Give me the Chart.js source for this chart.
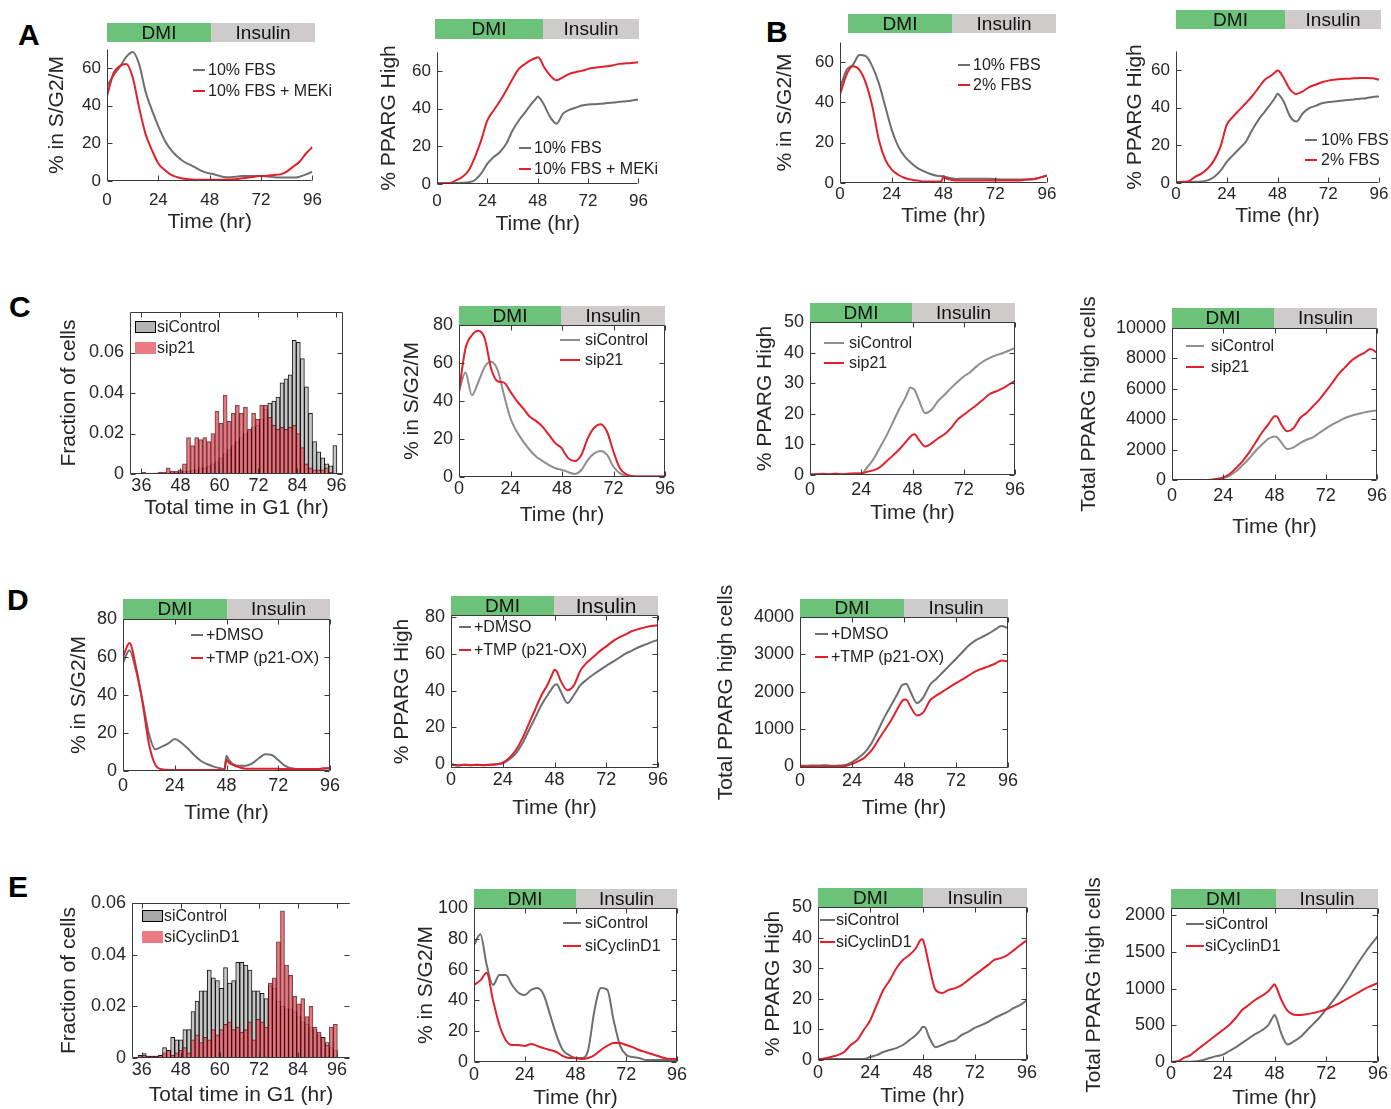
<!DOCTYPE html>
<html>
<head>
<meta charset="utf-8">
<title>Cell cycle exit and PPARG panels</title>
<script src="https://cdn.jsdelivr.net/npm/chart.js@4.4.1/dist/chart.umd.min.js"></script>
<style>
  html, body { margin: 0; padding: 0; background: #fff; }
  body { position: relative; width: 1391px; height: 1109px; overflow: hidden;
         font-family: "Liberation Sans", Arial, Helvetica, sans-serif; color: #222; }
  canvas { position: absolute; }
  .abs { position: absolute; white-space: nowrap; }
  .letter { font-weight: bold; font-size: 30px; line-height: 30px; color: #000; }
  .seg { display: flex; align-items: center; justify-content: center; font-size: 19px; color: #111; }
  .leg { font-size: 16px; line-height: 18px; color: #222; }
</style>
</head>
<body>
<div class="abs letter" style="left:18px;top:20px">A</div>
<div class="abs letter" style="left:766px;top:17px">B</div>
<div class="abs letter" style="left:9px;top:292px">C</div>
<div class="abs letter" style="left:7px;top:585px">D</div>
<div class="abs letter" style="left:8px;top:872px">E</div>
<script>
// Time points (hr) shared by every time-course panel
const TIME = [0,3,6,9,12,15,18,21,24,27,30,33,36,39,42,45,47,48,49,51,54,57,60,63,66,69,72,75,78,81,84,87,90,93,96];
const TIME_TICKS = [0,24,48,72,96];

// Histogram bins: total time in G1 (hr)
const BIN_CENTERS = [35.5,36.75,38,39.25,40.5,41.75,43,44.25,45.5,46.75,48,49.25,50.5,51.75,53,54.25,55.5,56.75,58,59.25,60.5,61.75,63,64.25,65.5,66.75,68,69.25,70.5,71.75,73,74.25,75.5,76.75,78,79.25,80.5,81.75,83,84.25,85.5,86.75,88,89.25,90.5,91.75,93,94.25,95.5];
const G1_TICKS = [36,48,60,72,84,96];

// y tick labels
const PCT70_TICKS = [0,20,40,60];
const PCT80_TICKS = [0,20,40,60,80];
const PCT50_TICKS = [0,10,20,30,40,50];
const PCT100_TICKS = [0,20,40,60,80,100];
const FRAC08_TICKS = [0,0.02,0.04,0.06];
const TOTAL10K_TICKS = [0,2000,4000,6000,8000,10000];
const TOTAL4K_TICKS = [0,1000,2000,3000,4000];
const TOTAL2K_TICKS = [0,500,1000,1500,2000];

// A: 10% FBS vs 10% FBS + MEKi
const A_SG2M_FBS   = [50,56,60.5,65.8,68.4,62,47.5,37.6,29,21.5,16.4,12.9,10.2,8.5,6.7,5,4.3,4,3.8,3.2,2.3,2,2.3,2.6,2.6,2.6,2.6,2.4,2,1.8,1.8,1.8,2.3,3.5,5];
const A_SG2M_MEKI  = [45,57,61,62,55,39,25,16.4,9.3,5.8,3.2,2,1.2,0.9,0.7,0.7,0.7,0.7,0.7,0.7,0.7,0.8,0.9,1.4,1.8,2.3,2.6,2.8,3.2,3.5,5,7.6,10.2,14.6,18];
const A_PPARG_FBS  = [0.3,0.3,0.4,0.5,0.6,0.9,2,5.5,10.8,14.3,17,21.3,28.4,33.7,38,42.5,45,46.4,45.5,42,35.4,32,37.2,39.3,40.4,41.6,42.2,42.3,42.5,42.9,43.2,43.6,43.9,44.3,44.8];
const A_PPARG_MEKI = [0.3,0.4,0.5,1.9,3.7,7,14,23,33.7,39,44,49.6,55.7,61,63.7,65.8,66.8,67.2,66.5,62,57.5,55,56.6,58.4,59.3,60,61,61.6,62,62.4,63,63.7,64,64.2,64.6];

// B: 10% FBS vs 2% FBS
const B_SG2M_FBS10  = [47,56,58.7,63.6,63,57.9,49.6,38,26.4,18.2,13.2,9.9,7.4,5.8,4.5,3.6,3.4,3.3,3,2.5,2,2.1,2.1,2.1,2.1,2.1,2,1.7,1.7,1.7,1.7,1.8,2,2.8,3.8];
const B_SG2M_FBS2   = [44,53.7,57.9,56.2,49.6,38,21.5,11.6,6.6,4.1,2.5,1.7,1.2,0.8,0.8,0.8,0.8,3.3,2.4,1.7,1.2,1.2,1.2,1.2,1.2,1.3,1.3,1.3,1.3,1.3,1.4,1.7,2,2.8,3.6];
const B_PPARG_FBS10 = [0.3,0.3,0.5,0.6,0.8,1.4,3.2,6.4,11.2,14.8,18.3,21.9,28.1,33.5,37.9,42.3,45.5,47.3,46.5,43,35.2,32.6,37,39.7,40.9,42.3,42.9,43.2,43.6,44,44.3,44.7,45,45.6,45.9];
const B_PPARG_FBS2  = [0.5,0.6,1,3.2,5,7.7,12,19.2,30.8,35.2,38.8,42.3,46,50.4,54.8,57,58.8,59.6,59,55.5,49.5,47.2,48.6,50.9,52.1,53.4,54.3,54.8,55.2,55.3,55.5,55.7,55.7,55.5,54.8];

// C: siControl vs sip21
const C_HIST_CTRL = [0,0,0,0,0.0005,0.0005,0.0005,0.0005,0.001,0.001,0.001,0.0015,0.0015,0.002,0.002,0.003,0.003,0.004,0.005,0.006,0.008,0.01,0.012,0.014,0.016,0.018,0.02,0.021,0.023,0.024,0.027,0.032,0.035,0.036,0.038,0.045,0.047,0.049,0.066,0.065,0.057,0.043,0.03,0.016,0.011,0.008,0.005,0.004,0.014];
const C_HIST_P21  = [0,0.001,0.0005,0.0005,0.0005,0.001,0.001,0.003,0.0015,0.0015,0.002,0.005,0.018,0.014,0.018,0.017,0.018,0.016,0.02,0.031,0.025,0.039,0.026,0.03,0.034,0.03,0.033,0.022,0.03,0.027,0.034,0.034,0.028,0.024,0.022,0.023,0.022,0.023,0.024,0.02,0.013,0.005,0.003,0.002,0.002,0.002,0.003,0.001,0];
const C_SG2M_CTRL  = [45,55,43,50,58,60.6,56.2,43,30.8,23.8,18.6,14.2,10.7,8.4,6.3,4.6,4,3.7,3.4,2.5,1.6,3.7,8.9,12.4,13.7,11.6,5.4,1.9,0.5,0.2,0.2,0.2,0.2,0.2,0.2];
const C_SG2M_P21   = [45,67.6,74.6,77,72.9,57,50.4,49.7,44.8,39.9,36,31.7,29.4,26.4,22,17.7,16,15,13,9.8,8.4,11.6,20.3,25.9,27.8,23.8,13.3,4.6,1.4,0.4,0.2,0.2,0.2,0.2,0.2];
const C_PPARG_CTRL = [0.2,0.3,0.2,0.3,0.2,0.3,0.4,0.5,0.5,2.7,5.5,9.3,13.1,17.5,21.8,25.7,28.6,28.3,27.8,24.5,20.2,21.3,24.2,26.2,28.4,30.4,32.2,33.6,35.5,37.1,38.2,39.1,39.8,40.6,41.5];
const C_PPARG_P21  = [0.2,0.2,0.4,0.2,0.5,0.2,0.4,0.5,0.5,1.1,1.6,2.7,4.6,6.5,8.5,10.9,12.5,13.1,13.3,11.5,9.3,10.4,12,13.3,15.3,18,19.7,21.3,22.9,24.6,26.4,27.3,28.2,29.5,30.8];
const C_TOTAL_CTRL = [0,0,0,0,0,0,0,30,110,285,570,965,1400,1890,2320,2700,2830,2870,2840,2500,2040,2150,2430,2650,2810,3090,3380,3640,3860,4080,4230,4340,4450,4520,4580];
const C_TOTAL_P21  = [0,0,0,0,0,0,20,66,175,395,790,1230,1780,2430,3090,3640,4050,4190,4200,3700,3200,3420,4080,4410,4850,5290,5830,6380,6970,7410,7850,8140,8360,8620,8360];

// D: +DMSO vs +TMP (p21-OX)
const D_SG2M_DMSO  = [57,63.6,53,37.3,19.8,11.4,12.8,14.5,16.8,14.9,11.9,8.4,5.4,3.7,2.3,1.4,1,8,6,3.7,2.8,2.8,4,6.7,8.8,8.4,5.8,2.8,1.4,1,1,1,1,1.2,1.4];
const D_SG2M_TMP   = [60,67.4,54.8,36.4,14.5,3.2,0.9,0.5,0.5,0.5,0.5,0.5,0.5,0.5,0.5,0.5,0.5,5.8,4.5,3.2,1.9,1.2,1.2,1.2,1.2,1.2,1.2,1,1,1,1,1,1,1.4,1.4];
const D_PPARG_DMSO = [0,-0.5,-0.2,-0.4,-0.3,-0.4,-0.2,0,0.5,2.6,5.8,11.1,18.2,25.2,32.3,37.9,41.5,42.9,43.4,39.3,33.2,37.6,42.9,46,48.7,51.1,53.4,55.6,57.8,60,61.7,63.5,64.9,66.3,67.5];
const D_PPARG_TMP  = [0,-0.7,-0.3,-0.5,-0.3,-0.5,-0.3,0,0.9,3.5,7.6,13.8,21.7,29.6,37.6,43.7,49,51.3,50.5,45,40.2,42.8,50.8,55.2,58.2,61.4,64,66.7,68.8,70.5,72.3,73.4,74.3,75,75.5];
const D_TOTAL_DMSO = [25,20,30,30,35,20,25,40,116,232,384,625,964,1321,1634,1946,2170,2196,2214,2000,1696,1857,2188,2348,2527,2705,2884,3063,3241,3375,3464,3554,3661,3759,3705];
const D_TOTAL_TMP  = [10,0,5,0,10,-5,5,15,71,143,250,429,696,964,1232,1545,1740,1786,1795,1600,1366,1455,1768,1902,2009,2125,2232,2330,2438,2545,2616,2679,2750,2839,2813];

// E: siControl vs siCyclinD1
const E_HIST_CTRL  = [0.001,0.0017,0.0007,0.0007,0.0007,0.001,0.004,0.003,0.008,0.007,0.007,0.011,0.011,0.018,0.022,0.026,0.026,0.034,0.031,0.03,0.027,0.035,0.029,0.03,0.037,0.037,0.036,0.034,0.026,0.026,0.025,0.023,0.028,0.027,0.022,0.02,0.019,0.019,0.018,0.016,0.014,0.013,0.012,0.011,0.009,0.008,0.006,0.004,0.003];
const E_HIST_CCND1 = [0.001,0.001,0.0007,0.0007,0.0007,0.001,0.002,0.003,0.001,0.002,0.003,0.004,0.002,0.007,0.009,0.006,0.008,0.007,0.011,0.009,0.011,0.013,0.014,0.011,0.012,0.01,0.011,0.014,0.007,0.015,0.014,0.012,0.029,0.031,0.045,0.057,0.036,0.032,0.024,0.021,0.023,0.016,0.02,0.012,0.01,0.008,0.005,0.012,0.013];
const E_SG2M_CTRL   = [76,83,63,50,56.5,56.5,50,45,43.5,46.8,48,43.5,30.5,17.5,7.8,4.5,3,2.6,2.6,2.6,7.8,33.8,48,47,27.3,11,4.5,3.2,2.6,1.3,1.3,1.3,1.3,1.3,1.3];
const E_SG2M_CCND1  = [50,53,58,40,24,14.3,11,11,10.4,11.7,10.4,9,7.8,6.5,3.9,2.6,2.6,2.6,2.3,2,2.6,4.5,7.8,10.4,12.3,12.3,11,9.7,7.8,6.5,5.2,3.9,2.6,2,2];
const E_PPARG_CTRL  = [0.3,0.3,0.3,0.3,0.3,0.3,0.3,0.3,1,1.6,2.6,3.3,3.9,4.9,6.5,8.2,9.8,10.8,10.8,7.5,4.2,4.9,5.9,6.5,8.2,9.2,10.5,11.4,12.4,13.7,14.7,15.7,17,18,19.6];
const E_PPARG_CCND1 = [0.3,0.5,1,1.6,2.6,4.9,6.5,9.8,13,18,22.9,26.1,30,32.7,34.3,36.6,39.2,39.5,37.5,31,22.9,21.9,22.9,23.5,24.5,26.1,27.8,29.4,31,32.7,33.3,34.3,35.9,37.6,39.2];
const E_TOTAL_CTRL  = [0,0,5,5,10,27,55,80,100,150,200,260,320,380,430,500,600,640,590,400,240,280,340,430,520,610,720,830,950,1080,1220,1360,1490,1610,1720];
const E_TOTAL_CCND1 = [0,10,55,95,164,232,300,368,436,505,600,709,777,845,900,960,1030,1060,1010,860,700,645,640,650,670,690,720,760,800,850,900,950,1000,1040,1080];

// Look
const FONT = '"Liberation Sans", Arial, Helvetica, sans-serif';
const TEXT = '#262626';
const AXIS = '#3a3a3a';
const GRAY = '#6e6e6e';
const LGRAY = '#8e8e8e';
const RED = '#e2202c';
const HIST_GRAY = '#c6c6c6';
const HIST_RED = 'rgba(234,104,114,0.85)';
const PAD_TOP = 40, PAD_RIGHT = 16;
const TITLE_FONT = 21;

Chart.defaults.font.family = FONT;
Chart.defaults.color = TEXT;

const SG2M = '% in S/G2/M', PPARG = '% PPARG High', TOTAL = 'Total PPARG high cells', HOURS = 'Time (hr)';

const panels = [
  // row A / B
  { kind: 'line', plot: [107, 49, 315, 181], y: [0, 70, PCT70_TICKS], x: [0, 96, TIME_TICKS], frame: 'open', tick: 17,
    yTitle: SG2M, yTitleX: 58, xTitle: HOURS, xTitleY: 222, xTickY: 200,
    bar: [107, 211, 315, 23, 42], legend: { x: 193, y: 70, dy: 21, len: 12, gap: 3 },
    series: [{ label: '10% FBS', data: A_SG2M_FBS, color: GRAY }, { label: '10% FBS + MEKi', data: A_SG2M_MEKI, color: RED }] },
  { kind: 'line', plot: [437, 52, 639, 184], y: [0, 70, PCT70_TICKS], x: [0, 96, TIME_TICKS], frame: 'open', tick: 17,
    yTitle: PPARG, yTitleX: 390, xTitle: HOURS, xTitleY: 224, xTickY: 201,
    bar: [435, 543, 639, 19, 39], legend: { x: 519, y: 148, dy: 21, len: 12, gap: 3 },
    series: [{ label: '10% FBS', data: A_PPARG_FBS, color: GRAY }, { label: '10% FBS + MEKi', data: A_PPARG_MEKI, color: RED }] },
  { kind: 'line', plot: [840, 42, 1047, 183], y: [0, 70, PCT70_TICKS], x: [0, 96, TIME_TICKS], frame: 'open', tick: 17,
    yTitle: SG2M, yTitleX: 786, xTitle: HOURS, xTitleY: 216, xTickY: 194,
    bar: [848, 952, 1056, 14, 33], legend: { x: 958, y: 65, dy: 20, len: 12, gap: 3 },
    series: [{ label: '10% FBS', data: B_SG2M_FBS10, color: GRAY }, { label: '2% FBS', data: B_SG2M_FBS2, color: RED }] },
  { kind: 'line', plot: [1176, 51, 1379, 183], y: [0, 70, PCT70_TICKS], x: [0, 96, TIME_TICKS], frame: 'open', tick: 17,
    yTitle: PPARG, yTitleX: 1136, xTitle: HOURS, xTitleY: 216, xTickY: 194,
    bar: [1176, 1285, 1381, 10, 29], legend: { x: 1305, y: 140, dy: 20, len: 12, gap: 4 },
    series: [{ label: '10% FBS', data: B_PPARG_FBS10, color: GRAY }, { label: '2% FBS', data: B_PPARG_FBS2, color: RED }] },

  // row C
  { kind: 'hist', plot: [130, 312, 343, 474], y: [0, 0.08, FRAC08_TICKS], x: [32.5, 98, G1_TICKS], frame: 'box',
    yTitle: 'Fraction of cells', yTitleX: 70, xTitle: 'Total time in G1 (hr)', xTitleY: 508, xTickY: 486,
    legend: { x: 135, y: 327, dy: 21 },
    series: [{ label: 'siControl', data: C_HIST_CTRL, fill: HIST_GRAY, edge: 'rgba(0,0,0,0.9)', box: '#b4b4b4', boxEdge: '1px solid #000' },
             { label: 'sip21', data: C_HIST_P21, fill: HIST_RED, edge: 'rgba(70,10,15,0.75)', box: '#ec7a82' }] },
  { kind: 'line', plot: [459, 325, 665, 477], y: [0, 80, PCT80_TICKS], x: [0, 96, TIME_TICKS], frame: 'box',
    yTitle: SG2M, yTitleX: 413, xTitle: HOURS, xTitleY: 515, xTickY: 489,
    bar: [459, 561, 665, 306, 325], legend: { x: 560, y: 340, dy: 20, len: 20, gap: 5 },
    series: [{ label: 'siControl', data: C_SG2M_CTRL, color: LGRAY }, { label: 'sip21', data: C_SG2M_P21, color: RED }] },
  { kind: 'line', plot: [810, 322, 1015, 475], y: [0, 50, PCT50_TICKS], x: [0, 96, TIME_TICKS], frame: 'box',
    yTitle: PPARG, yTitleX: 766, xTitle: HOURS, xTitleY: 513, xTickY: 490,
    bar: [810, 912, 1015, 303, 322], legend: { x: 824, y: 343, dy: 20, len: 20, gap: 5 },
    series: [{ label: 'siControl', data: C_PPARG_CTRL, color: LGRAY }, { label: 'sip21', data: C_PPARG_P21, color: RED }] },
  { kind: 'line', plot: [1172, 328, 1377, 480], y: [0, 10000, TOTAL10K_TICKS], x: [0, 96, TIME_TICKS], frame: 'box',
    yTitle: TOTAL, yTitleX: 1090, xTitle: HOURS, xTitleY: 527, xTickY: 496,
    bar: [1172, 1274, 1377, 308, 328], legend: { x: 1186, y: 346, dy: 21, len: 18, gap: 7 },
    series: [{ label: 'siControl', data: C_TOTAL_CTRL, color: LGRAY }, { label: 'sip21', data: C_TOTAL_P21, color: RED }] },

  // row D
  { kind: 'line', plot: [123, 619, 330, 771], y: [0, 80, PCT80_TICKS], x: [0, 96, TIME_TICKS], frame: 'box',
    yTitle: SG2M, yTitleX: 80, xTitle: HOURS, xTitleY: 813, xTickY: 786,
    bar: [123, 227, 330, 599, 619], legend: { x: 191, y: 635, dy: 23, len: 12, gap: 3 },
    series: [{ label: '+DMSO', data: D_SG2M_DMSO, color: GRAY }, { label: '+TMP (p21-OX)', data: D_SG2M_TMP, color: RED }] },
  { kind: 'line', plot: [451, 615, 658, 768], y: [-2, 81, PCT80_TICKS], x: [0, 96, TIME_TICKS], frame: 'box',
    yTitle: PPARG, yTitleX: 403, xTitle: HOURS, xTitleY: 808, xTickY: 780,
    bar: [451, 554, 658, 596, 615], insSize: 21, legend: { x: 459, y: 627, dy: 23, len: 12, gap: 3 },
    series: [{ label: '+DMSO', data: D_PPARG_DMSO, color: GRAY }, { label: '+TMP (p21-OX)', data: D_PPARG_TMP, color: RED }] },
  { kind: 'line', plot: [800, 617, 1008, 768], y: [-40, 4000, TOTAL4K_TICKS], x: [0, 96, TIME_TICKS], frame: 'box',
    yTitle: TOTAL, yTitleX: 727, xTitle: HOURS, xTitleY: 808, xTickY: 781,
    bar: [800, 904, 1008, 599, 617], legend: { x: 815, y: 634, dy: 23, len: 13, gap: 3 },
    series: [{ label: '+DMSO', data: D_TOTAL_DMSO, color: GRAY }, { label: '+TMP (p21-OX)', data: D_TOTAL_TMP, color: RED }] },

  // row E
  { kind: 'hist', plot: [132, 903, 350, 1058], y: [0, 0.06, FRAC08_TICKS], x: [33, 100, G1_TICKS], frame: 'noright',
    yTitle: 'Fraction of cells', yTitleX: 70, xTitle: 'Total time in G1 (hr)', xTitleY: 1095, xTickY: 1070,
    legend: { x: 142, y: 916, dy: 21 },
    series: [{ label: 'siControl', data: E_HIST_CTRL, fill: HIST_GRAY, edge: 'rgba(0,0,0,0.9)', box: '#a8a8a8', boxEdge: '1px solid #000' },
             { label: 'siCyclinD1', data: E_HIST_CCND1, fill: HIST_RED, edge: 'rgba(70,10,15,0.75)', box: '#ec7a82' }] },
  { kind: 'line', plot: [474, 908, 677, 1062], y: [0, 100, PCT100_TICKS], x: [0, 96, TIME_TICKS], frame: 'box',
    yTitle: SG2M, yTitleX: 427, xTitle: HOURS, xTitleY: 1098, xTickY: 1075,
    bar: [474, 576, 677, 889, 908], legend: { x: 563, y: 923, dy: 23, len: 18, gap: 4 },
    series: [{ label: 'siControl', data: E_SG2M_CTRL, color: GRAY }, { label: 'siCyclinD1', data: E_SG2M_CCND1, color: RED }] },
  { kind: 'line', plot: [818, 907, 1027, 1060], y: [0, 50, PCT50_TICKS], x: [0, 96, TIME_TICKS], frame: 'box',
    yTitle: PPARG, yTitleX: 774, xTitle: HOURS, xTitleY: 1096, xTickY: 1073,
    bar: [818, 923, 1027, 888, 907], legend: { x: 820, y: 920, dy: 22, len: 15, gap: 1 },
    series: [{ label: 'siControl', data: E_PPARG_CTRL, color: GRAY }, { label: 'siCyclinD1', data: E_PPARG_CCND1, color: RED }] },
  { kind: 'line', plot: [1171, 908, 1378, 1062], y: [0, 2100, TOTAL2K_TICKS], x: [0, 96, TIME_TICKS], frame: 'box',
    yTitle: TOTAL, yTitleX: 1095, xTitle: HOURS, xTitleY: 1098, xTickY: 1074,
    bar: [1171, 1276, 1378, 889, 908], legend: { x: 1186, y: 924, dy: 22, len: 18, gap: 1 },
    series: [{ label: 'siControl', data: E_TOTAL_CTRL, color: GRAY }, { label: 'siCyclinD1', data: E_TOTAL_CCND1, color: RED }] }
];

// Axis lines and inward tick marks (MATLAB-style)
const framePlugin = {
  id: 'frame',
  afterDatasetsDraw(chart, args, opts) {
    const { ctx, chartArea: a } = chart;
    const xs = chart.scales.x, ys = chart.scales.y;
    const L = Math.round(a.left) + 0.5, R = Math.round(a.right) - 0.5;
    const T = Math.round(a.top) + 0.5, B = Math.round(a.bottom) - 0.5;
    const tl = 5;
    ctx.save();
    ctx.strokeStyle = AXIS;
    ctx.lineWidth = 1;
    ctx.beginPath();
    ctx.moveTo(L, T); ctx.lineTo(L, B); ctx.lineTo(R, B);
    if (opts.style === 'box') { ctx.lineTo(R, T); ctx.lineTo(L, T); }
    if (opts.style === 'noright') { ctx.moveTo(L, T); ctx.lineTo(R, T); }
    ys.ticks.forEach(t => {
      const y = Math.round(ys.getPixelForValue(t.value)) + 0.5;
      ctx.moveTo(L, y); ctx.lineTo(L + tl, y);
      if (opts.style !== 'open') { ctx.moveTo(R, y); ctx.lineTo(R - tl, y); }
    });
    xs.ticks.forEach(t => {
      const x = Math.round(xs.getPixelForValue(t.value)) + 0.5;
      ctx.moveTo(x, B); ctx.lineTo(x, B - tl);
      if (opts.style !== 'open') { ctx.moveTo(x, T); ctx.lineTo(x, T + tl); }
    });
    ctx.stroke();
    ctx.restore();
  }
};
Chart.register(framePlugin);

function addEl(cls, css, text) {
  const d = document.createElement('div');
  d.className = cls;
  Object.assign(d.style, css);
  if (text) d.textContent = text;
  document.body.appendChild(d);
  return d;
}

function treatmentBar(p) {
  const [x0, xm, x1, y0, y1] = p.bar;
  addEl('abs seg', { left: x0 + 'px', top: y0 + 'px', width: (xm - x0) + 'px', height: (y1 - y0) + 'px',
    background: '#6dc27a' }, 'DMI');
  addEl('abs seg', { left: xm + 'px', top: y0 + 'px', width: (x1 - xm) + 'px', height: (y1 - y0) + 'px',
    background: '#cfcbcb', fontSize: (p.insSize || 19) + 'px' }, 'Insulin');
}

function legend(p) {
  const L = p.legend;
  p.series.forEach((s, i) => {
    const cy = L.y + i * L.dy;
    if (p.kind === 'hist') {
      addEl('abs', { left: L.x + 'px', top: (cy - 6) + 'px', width: '21px', height: '12px',
        background: s.box, border: s.boxEdge || 'none', boxSizing: 'border-box' });
      addEl('abs leg', { left: (L.x + 22) + 'px', top: (cy - 9) + 'px' }, s.label);
    } else {
      addEl('abs', { left: L.x + 'px', top: (cy - 1) + 'px', width: L.len + 'px', height: '2px', background: s.color });
      addEl('abs leg', { left: (L.x + L.len + L.gap) + 'px', top: (cy - 9) + 'px' }, s.label);
    }
  });
}

function buildPanel(p) {
  const [pl, pt, pr, pb] = p.plot;
  const tickSize = p.tick || 18;
  const lh = TITLE_FONT * 1.2;
  const cl = Math.round(p.yTitleX - lh / 2);
  const ct = pt - PAD_TOP;
  const cw = pr + PAD_RIGHT - cl;
  const cb = Math.round(p.xTitleY + lh / 2);
  const ch = cb - ct;
  const yW = pl - cl, xH = cb - pb;

  const canvas = document.createElement('canvas');
  canvas.width = cw; canvas.height = ch;
  Object.assign(canvas.style, { left: cl + 'px', top: ct + 'px', width: cw + 'px', height: ch + 'px' });
  document.body.appendChild(canvas);

  const n = p.series.length;
  const datasets = p.kind === 'hist'
    ? p.series.map((s, i) => ({
        data: BIN_CENTERS.map((c, k) => ({ x: c, y: s.data[k] })),
        backgroundColor: s.fill, borderColor: s.edge, borderWidth: 1,
        grouped: false, barPercentage: 1, categoryPercentage: 1, order: n - i }))
    : p.series.map((s, i) => ({
        data: TIME.map((t, k) => ({ x: t, y: s.data[k] })),
        borderColor: s.color, borderWidth: 2, pointRadius: 0, fill: false,
        cubicInterpolationMode: 'monotone', order: n - i }));

  new Chart(canvas, {
    type: p.kind === 'hist' ? 'bar' : 'line',
    data: { datasets },
    options: {
      responsive: false,
      animation: false,
      devicePixelRatio: 1,
      events: [],
      layout: { padding: { top: PAD_TOP, right: PAD_RIGHT, left: 0, bottom: 0 } },
      plugins: { legend: { display: false }, tooltip: { enabled: false }, frame: { style: p.frame } },
      scales: {
        x: {
          type: 'linear', min: p.x[0], max: p.x[1], offset: false,
          grid: { display: false, drawTicks: false }, border: { display: false },
          ticks: { font: { size: tickSize }, color: TEXT, padding: p.xTickY - tickSize * 0.58 - pb,
                   maxRotation: 0, autoSkip: false, callback: v => String(v) },
          afterBuildTicks: s => { s.ticks = p.x[2].map(v => ({ value: v })); },
          afterFit: s => { s.height = xH; },
          title: { display: true, text: p.xTitle, font: { size: TITLE_FONT }, color: TEXT, padding: 0 }
        },
        y: {
          type: 'linear', min: p.y[0], max: p.y[1],
          grid: { display: false, drawTicks: false }, border: { display: false },
          ticks: { font: { size: tickSize }, color: TEXT, padding: 6, autoSkip: false, callback: v => String(v) },
          afterBuildTicks: s => { s.ticks = p.y[2].map(v => ({ value: v })); },
          afterFit: s => { s.width = yW; },
          title: { display: true, text: p.yTitle, font: { size: TITLE_FONT }, color: TEXT, padding: 0 }
        }
      }
    }
  });

  if (p.bar) treatmentBar(p);
  legend(p);
}

panels.forEach(buildPanel);
</script>
</body>
</html>
